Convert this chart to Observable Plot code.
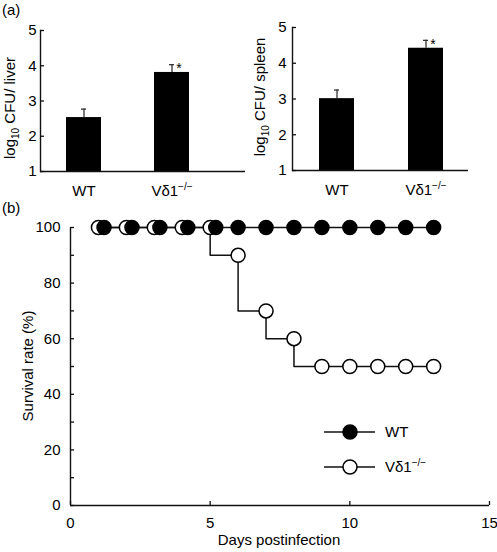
<!DOCTYPE html>
<html><head><meta charset="utf-8">
<script src="https://cdn.jsdelivr.net/npm/d3@7"></script>
<script src="https://cdn.jsdelivr.net/npm/@observablehq/plot@0.6"></script>
<style>
body{margin:0;background:#fff;}
#root{position:relative;width:497px;height:552px;font-family:"Liberation Sans",Arial,sans-serif;}
#root svg{position:absolute;overflow:visible;}
</style></head><body><div id="root"></div>
<script>
// ---- data ----
const groups = ["WT", "Vδ1"];
const liverMean = [2.53, 3.81];
const liverErr = [0.24, 0.22];
const spleenMean = [3.01, 4.42];
const spleenErr = [0.24, 0.22];
const yTicksA = [1, 2, 3, 4, 5];

const wtDays = [1.2, 2.2, 3.2, 4.2, 5.2, 6, 7, 8, 9, 10, 11, 12, 13];
const wtSurvival = [100, 100, 100, 100, 100, 100, 100, 100, 100, 100, 100, 100, 100];
const koDays = [1, 2, 3, 4, 5, 6, 7, 8, 9, 10, 11, 12, 13];
const koSurvival = [100, 100, 100, 100, 100, 90, 70, 60, 50, 50, 50, 50, 50];
const xTicksB = [0, 5, 10, 15];
const yTicksB = [0, 20, 40, 60, 80, 100];
const yMinorB = [10, 30, 50, 70, 90];

const FONT = '"Liberation Sans", Arial, sans-serif';
const root = document.getElementById("root");
const SUP = "\u2212/\u2212";

function addSuper(svg) {
  d3.select(svg).selectAll("text").each(function () {
    if (this.textContent === "Vδ1") {
      const t = d3.select(this);
      const sp = t.append("tspan").attr("font-size", 10).attr("dy", -6).text(SUP);
      const w = sp.node().getComputedTextLength();
      t.attr("dx", w / 2);
    }
  });
}

function barPanel({mean, err, left, width, height, mL, mR, mT, mB, pi, po, align, tickPad, ylab, labX, labY}) {
  const rows = groups.map((g, i) => ({g, mean: mean[i], top: mean[i] + err[i]}));
  const svg = Plot.plot({
    width, height, marginLeft: mL, marginRight: mR, marginTop: mT, marginBottom: mB,
    style: {fontFamily: FONT, fontSize: "15px", color: "#000", background: "transparent"},
    x: {domain: groups, paddingInner: pi, paddingOuter: po, align, label: null},
    y: {domain: [yTicksA[0], yTicksA[yTicksA.length - 1]], label: null},
    marks: [
      Plot.barY(rows, {x: "g", y1: () => yTicksA[0], y2: "mean", fill: "#000"}),
      Plot.ruleX(rows, {x: "g", y1: "mean", y2: "top", stroke: "#333", strokeWidth: 1.3}),
      Plot.tickY(rows, {x: "g", y: "top", insetLeft: 15, insetRight: 15, stroke: "#333", strokeWidth: 1.3}),
      Plot.text(rows.slice(1), {x: "g", y: "top", text: () => "*", dx: 7, dy: 4, fontSize: 14}),
      Plot.ruleY([yTicksA[0]], {stroke: "#111", strokeWidth: 1.4}),
      Plot.frame({anchor: "left", stroke: "#111", strokeWidth: 1.4}),
      Plot.axisY({ticks: yTicksA, tickSize: -4, tickPadding: tickPad, tickFormat: d => d, stroke: "#111", strokeWidth: 1.3}),
      Plot.axisX({tickSize: 0, tickPadding: 14})
    ]
  });
  svg.style.left = left + "px";
  svg.style.top = "0px";
  addSuper(svg);
  const lab = d3.select(svg).append("text")
    .attr("transform", `translate(${labX},${labY}) rotate(-90)`)
    .attr("text-anchor", "middle").attr("font-size", 15).attr("fill", "#000");
  lab.append("tspan").text("log");
  lab.append("tspan").attr("font-size", 10).attr("dy", 4).text("10");
  lab.append("tspan").attr("dy", -4).text(" CFU/ " + ylab);
  root.appendChild(svg);
  return svg;
}

const svgA1 = barPanel({mean: liverMean, err: liverErr, left: 0, width: 250, height: 200,
  mL: 40, mR: 5, mT: 30, mB: 29, pi: 0.605, po: 0.46, align: 0.32, tickPad: 8,
  ylab: "liver", labX: 15, labY: 108});
d3.select(svgA1).append("text").attr("x", 2).attr("y", 15).attr("font-size", 15)
  .attr("text-anchor", "start").text("(a)");

barPanel({mean: spleenMean, err: spleenErr, left: 250, width: 247, height: 200,
  mL: 42, mR: 29, mT: 27, mB: 30, pi: 0.607, po: 0.29, align: 0.52, tickPad: 10,
  ylab: "spleen", labX: 15, labY: 97});

// ---- panel (b) ----
const wt = wtDays.map((d, i) => ({d, s: wtSurvival[i]}));
const ko = koDays.map((d, i) => ({d, s: koSurvival[i]}));
const svgB = Plot.plot({
  width: 497, height: 357, marginLeft: 70, marginRight: 8, marginTop: 32, marginBottom: 47,
  style: {fontFamily: FONT, fontSize: "15px", color: "#000", background: "transparent"},
  x: {domain: [xTicksB[0], xTicksB[xTicksB.length - 1]], label: null},
  y: {domain: [yTicksB[0], yTicksB[yTicksB.length - 1]], label: null},
  marks: [
    Plot.ruleX([xTicksB[0]], {stroke: "#111", strokeWidth: 1.4}),
    Plot.ruleY([yTicksB[0]], {stroke: "#111", strokeWidth: 1.4}),
    Plot.axisY({ticks: yTicksB, tickSize: -4, tickPadding: 14, tickFormat: d => d, stroke: "#111", strokeWidth: 1.3}),
    Plot.axisY({ticks: yMinorB, tickSize: -4, tickPadding: 14, tickFormat: () => "", stroke: "#111", strokeWidth: 1.3}),
    Plot.axisX({ticks: xTicksB, tickSize: -4, tickPadding: 16, tickFormat: d => d, stroke: "#111", strokeWidth: 1.3}),
    Plot.line(ko, {x: "d", y: "s", curve: "step-before", stroke: "#111", strokeWidth: 1.5}),
    Plot.line(wt, {x: "d", y: "s", stroke: "#111", strokeWidth: 1.5}),
    Plot.dot(ko, {x: "d", y: "s", r: 7, fill: "#fff", stroke: "#000", strokeWidth: 1.5}),
    Plot.dot(wt, {x: "d", y: "s", r: 7, fill: "#000", stroke: "#000", strokeWidth: 1.5})
  ]
});
svgB.style.left = "0px";
svgB.style.top = "195px";
const gb = d3.select(svgB);
gb.append("text").attr("x", 2).attr("y", 18).attr("font-size", 15)
  .attr("text-anchor", "start").text("(b)");
gb.append("text").attr("transform", "translate(33,171) rotate(-90)")
  .attr("text-anchor", "middle").attr("font-size", 15).text("Survival rate (%)");
gb.append("text").attr("x", 279).attr("y", 350)
  .attr("text-anchor", "middle").attr("font-size", 15).text("Days postinfection");
// legend
const legend = [
  {label: "WT", fill: "#000", y: 237},
  {label: "Vδ1", fill: "#fff", y: 272}
];
const lg = gb.append("g");
legend.forEach(it => {
  lg.append("line").attr("x1", 324).attr("x2", 375).attr("y1", it.y).attr("y2", it.y)
    .attr("stroke", "#111").attr("stroke-width", 1.5);
  lg.append("circle").attr("cx", 350).attr("cy", it.y).attr("r", 7)
    .attr("fill", it.fill).attr("stroke", "#000").attr("stroke-width", 1.5);
  const t = lg.append("text").attr("x", 385).attr("y", it.y).attr("dy", "0.35em")
    .attr("text-anchor", "start").attr("font-size", 15).text(it.label);
  if (it.label === "Vδ1") t.append("tspan").attr("font-size", 10).attr("dy", -6).text(SUP);
});
root.appendChild(svgB);
</script>
</body></html>
